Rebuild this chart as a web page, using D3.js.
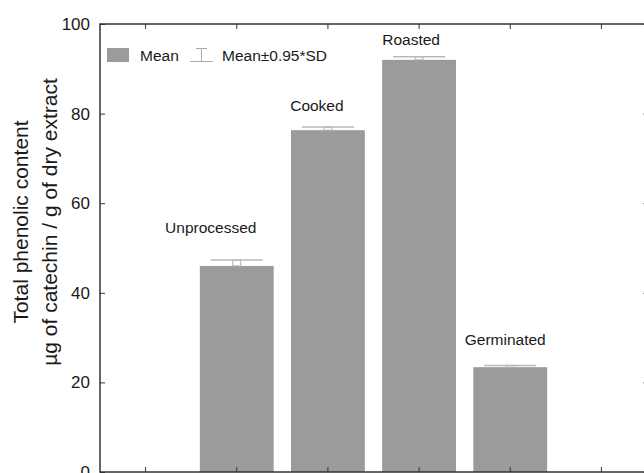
<!DOCTYPE html>
<html>
<head>
<meta charset="utf-8">
<script src="https://cdn.jsdelivr.net/npm/d3@7"></script>
<style>
  body { margin: 0; background: #fff; }
  text { font-family: "Liberation Sans", Arial, sans-serif; fill: #1a1a1a; }
</style>
</head>
<body>
<div id="chart"></div>
<script>
// data
var categories = ["Unprocessed", "Cooked", "Roasted", "Germinated"];
var means = [46.0, 76.3, 92.0, 23.4];
var errs = [1.3, 0.7, 0.7, 0.4];   // 0.95*SD
var yTicks = [0, 20, 40, 60, 80, 100];
var slots = ["pad0"].concat(categories).concat(["pad1"]);

var W = 644, H = 473;
var plotL = 100, plotR = 647, plotT = 24, plotB = 472;

var svg = d3.select("#chart").append("svg").attr("width", W).attr("height", H);

var x = d3.scaleBand().domain(slots).range([plotL, plotR]).padding(0);
var y = d3.scaleLinear().domain([0, 100]).range([plotB, plotT]);
var barW = x.bandwidth() * 0.81;
var cx = function (c) { return x(c) + x.bandwidth() / 2; };

// bars
svg.append("g").selectAll("rect").data(categories).enter().append("rect")
  .attr("x", function (c) { return cx(c) - barW / 2; })
  .attr("y", function (c, i) { return y(means[i]); })
  .attr("width", barW)
  .attr("height", function (c, i) { return y(0) - y(means[i]); })
  .style("fill", "#9a9b9a");

// error marks: small box + wide cap
var eg = svg.append("g");
eg.selectAll("rect").data(categories).enter().append("rect")
  .attr("x", function (c) { return cx(c) - 4; })
  .attr("y", function (c, i) { return y(means[i] + errs[i]); })
  .attr("width", 8)
  .attr("height", function (c, i) { return y(means[i]) - y(means[i] + errs[i]); })
  .style("fill", "none").style("stroke", "#b0b0b0").style("stroke-width", 1);
eg.selectAll("line").data(categories).enter().append("line")
  .attr("x1", function (c) { return cx(c) - 26; })
  .attr("x2", function (c) { return cx(c) + 26; })
  .attr("y1", function (c, i) { return y(means[i] + errs[i]); })
  .attr("y2", function (c, i) { return y(means[i] + errs[i]); })
  .style("stroke", "#b8b8b8").style("stroke-width", 1.5);

// bar labels
var lift = [27, 16, 12, 20];
var shift = [-26, -11, -8, -5];
svg.append("g").selectAll("text").data(categories).enter().append("text")
  .attr("x", function (c, i) { return cx(c) + shift[i]; })
  .attr("y", function (c, i) { return y(means[i] + errs[i]) - lift[i]; })
  .attr("text-anchor", "middle")
  .style("font-size", "15.5px")
  .text(function (c) { return c; });

// axes
var yAxis = svg.append("g").attr("transform", "translate(" + plotL + ",0)")
  .call(d3.axisLeft(y).tickValues(yTicks).tickSizeInner(-5).tickSizeOuter(0).tickPadding(10));
yAxis.select(".domain").remove();
yAxis.selectAll("text").style("font-size", "17px").style("fill", "#1a1a1a");
yAxis.selectAll("line").style("stroke", "#333");

var yAxisR = svg.append("g").attr("transform", "translate(" + plotR + ",0)")
  .call(d3.axisRight(y).tickValues(yTicks).tickSizeInner(-4).tickSizeOuter(0).tickFormat(""));
yAxisR.select(".domain").remove();
yAxisR.selectAll("line").style("stroke", "#999");

var xAxis = svg.append("g").attr("transform", "translate(0," + plotB + ")")
  .call(d3.axisBottom(x).tickSizeInner(-5).tickSizeOuter(0).tickFormat(""));
xAxis.select(".domain").remove();
xAxis.selectAll("line").style("stroke", "#333");

var xAxisT = svg.append("g").attr("transform", "translate(0," + plotT + ")")
  .call(d3.axisTop(x).tickSizeInner(-5).tickSizeOuter(0).tickFormat(""));
xAxisT.select(".domain").remove();
xAxisT.selectAll("line").style("stroke", "#333");

// frame
svg.append("rect").attr("x", plotL).attr("y", plotT)
  .attr("width", plotR - plotL).attr("height", plotB - plotT)
  .style("fill", "none").style("stroke", "#333").style("stroke-width", 1.5);

// y title
var title = svg.append("text").attr("transform", "translate(0,222) rotate(-90)")
  .attr("text-anchor", "middle").style("font-size", "21px");
title.append("tspan").attr("x", 0).attr("y", 28).text("Total phenolic content");
title.append("tspan").attr("x", 0).attr("y", 57).text("µg of catechin / g of dry extract");

// legend
var lg = svg.append("g");
lg.append("rect").attr("x", 107).attr("y", 48).attr("width", 22).attr("height", 14).style("fill", "#9a9b9a");
lg.append("text").attr("x", 140).attr("y", 61).style("font-size", "15.5px").text("Mean");
lg.append("line").attr("x1", 196).attr("x2", 207).attr("y1", 48.5).attr("y2", 48.5).style("stroke", "#aaa");
lg.append("line").attr("x1", 201.5).attr("x2", 201.5).attr("y1", 48.5).attr("y2", 61.5).style("stroke", "#aaa");
lg.append("line").attr("x1", 190).attr("x2", 213).attr("y1", 61.5).attr("y2", 61.5).style("stroke", "#aaa");
lg.append("text").attr("x", 222).attr("y", 61).style("font-size", "15.5px").text("Mean±0.95*SD");
</script>
</body>
</html>
